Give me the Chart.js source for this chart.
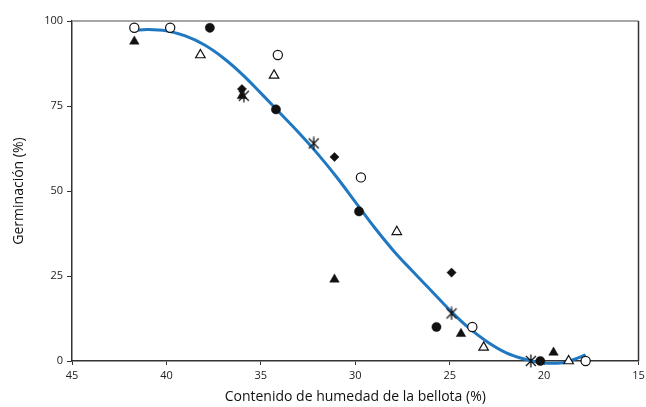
<!DOCTYPE html>
<html>
<head>
<meta charset="utf-8">
<script src="https://cdn.jsdelivr.net/npm/chart.js@4"></script>
<style>
    html, body { margin: 0; padding: 0; background: #fff; }
    #wrap { width: 646px; height: 407px; }
</style>
</head>
<body>
<div id="wrap"><canvas id="chart"></canvas></div>
<script>
// === DATA (humedad %, germinacion %) ===
const circleOpen = [[41.7, 98], [39.8, 98], [34.1, 90], [29.7, 54], [23.8, 10], [17.8, 0]];
const circleFilled = [[37.7, 98], [34.2, 74], [29.8, 44], [25.7, 10], [20.2, 0]];
const triangleFilled = [[41.7, 94], [36.0, 78], [31.1, 24], [24.4, 8], [19.5, 2.5]];
const triangleOpen = [[38.2, 90], [34.3, 84], [27.8, 38], [23.2, 4], [18.7, 0]];
const diamondFilled = [[36.0, 80], [31.1, 60], [24.9, 26]];
const asterisk = [[35.9, 78], [32.2, 64], [24.9, 14], [20.7, 0]];

// fitted curve
const curveX = [41.7, 41, 40, 39, 38, 37, 36, 35, 34, 33, 32, 31, 30, 29, 28, 27, 26, 25, 24, 23, 22, 21, 20, 19, 18.5, 17.8];
const curveY = [97.2, 97.5, 97.1, 95.6, 93.0, 89.2, 84.4, 78.8, 73.0, 67.2, 61.0, 54.2, 46.8, 39.4, 32.6, 26.6, 20.8, 15.0, 9.8, 5.6, 2.4, 0.5, -0.6, -0.5, 0.3, 1.8];

const xTicks = [45, 40, 35, 30, 25, 20, 15];
const yTicks = [0, 25, 50, 75, 100];

const toPts = arr => arr.map(p => ({ x: p[0], y: p[1] }));
const INK = '#111';

// asterisk marker: X with a vertical stroke
function makeAsterisk() {
    const c = document.createElement('canvas');
    c.width = 14; c.height = 14;
    const g = c.getContext('2d');
    g.strokeStyle = INK;
    g.lineWidth = 1.3;
    g.beginPath();
    g.moveTo(2, 2); g.lineTo(12, 12);
    g.moveTo(12, 2); g.lineTo(2, 12);
    g.moveTo(7, 0.5); g.lineTo(7, 13.5);
    g.stroke();
    return c;
}

function markerSet(label, data, style, filled, radius) {
    return {
        type: 'scatter',
        label: label,
        data: toPts(data),
        pointStyle: style,
        pointRadius: radius,
        pointHoverRadius: radius,
        pointBackgroundColor: filled ? INK : '#fff',
        pointBorderColor: INK,
        pointBorderWidth: filled ? 0.5 : 1.2,
        clip: false,
        order: 1
    };
}

// frame: top line gray, right line dark
const framePlugin = {
    id: 'frame',
    afterDatasetsDraw(chart) {
        const { ctx, chartArea: a } = chart;
        ctx.save();
        ctx.lineWidth = 1.5;
        ctx.strokeStyle = '#8a8a8a';
        ctx.beginPath();
        ctx.moveTo(a.left, a.top);
        ctx.lineTo(a.right, a.top);
        ctx.stroke();
        ctx.strokeStyle = '#333';
        ctx.beginPath();
        ctx.moveTo(a.right, a.top);
        ctx.lineTo(a.right, a.bottom);
        ctx.stroke();
        ctx.restore();
    }
};

const tickFont = { family: 'Open Sans', size: 11 };
const titleFont = { family: 'Open Sans', size: 14 };

new Chart(document.getElementById('chart'), {
    type: 'scatter',
    data: {
        datasets: [
            {
                type: 'line',
                label: 'Ajuste',
                data: curveX.map((x, i) => ({ x: x, y: curveY[i] })),
                borderColor: '#1f78c1',
                borderWidth: 3,
                pointRadius: 0,
                tension: 0.4,
                fill: false,
                clip: false,
                order: 2
            },
            markerSet('Círculo abierto', circleOpen, 'circle', false, 4.6),
            markerSet('Círculo lleno', circleFilled, 'circle', true, 4.6),
            markerSet('Triángulo lleno', triangleFilled, 'triangle', true, 5.5),
            markerSet('Triángulo abierto', triangleOpen, 'triangle', false, 5.5),
            markerSet('Rombo', diamondFilled, 'rectRot', true, 4.6),
            markerSet('Asterisco', asterisk, makeAsterisk(), true, 7)
        ]
    },
    options: {
        responsive: true,
        maintainAspectRatio: false,
        animation: false,
        layout: { padding: { top: 21, right: 5, left: 0, bottom: 0 } },
        plugins: {
            legend: { display: false },
            tooltip: { enabled: false }
        },
        scales: {
            x: {
                type: 'linear',
                reverse: true,
                min: 15,
                max: 45,
                afterBuildTicks: s => { s.ticks = xTicks.map(v => ({ value: v })); },
                ticks: { font: tickFont, color: '#222', padding: 4, maxRotation: 0 },
                grid: { display: true, drawOnChartArea: false, drawTicks: true, tickLength: 4, tickColor: '#333' },
                border: { display: true, color: '#333', width: 1.5 },
                title: {
                    display: true,
                    text: 'Contenido de humedad de la bellota (%)',
                    font: titleFont,
                    color: '#111',
                    padding: { top: 0, bottom: 2 }
                },
                afterFit: s => { s.height = 46; s.paddingLeft = 0; s.paddingRight = 0; }
            },
            y: {
                min: 0,
                max: 100,
                afterBuildTicks: s => { s.ticks = yTicks.map(v => ({ value: v })); },
                ticks: { font: tickFont, color: '#222', padding: 4 },
                grid: { display: true, drawOnChartArea: false, drawTicks: true, tickLength: 5, tickColor: '#333' },
                border: { display: true, color: '#333', width: 1.5 },
                title: {
                    display: true,
                    text: 'Germinación (%)',
                    font: titleFont,
                    color: '#111',
                    padding: { top: 11, bottom: 0 }
                },
                afterFit: s => { s.width = 72; s.paddingTop = 0; s.paddingBottom = 0; }
            }
        }
    },
    plugins: [framePlugin]
});
</script>
</body>
</html>
